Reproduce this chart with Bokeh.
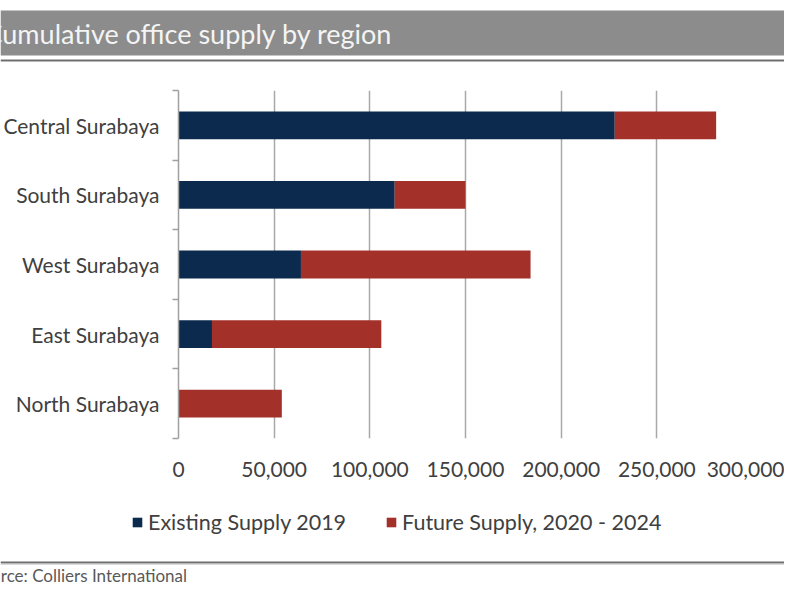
from bokeh.plotting import figure
from bokeh.layouts import column
from bokeh.models import (ColumnDataSource, Range1d, FixedTicker, NumeralTickFormatter,
                          Legend, LegendItem, Label, BoxAnnotation)
from bokeh.embed import file_html
from bokeh.resources import INLINE

# ---- data ----
regions = ["Central Surabaya", "South Surabaya", "West Surabaya", "East Surabaya", "North Surabaya"]
existing_2019 = [228000, 113000, 64000, 17500, 0]
future_2020_2024 = [53000, 37000, 120000, 88500, 54000]
series_names = ["Existing Supply 2019", "Future Supply, 2020 - 2024"]
x_ticks = [0, 50000, 100000, 150000, 200000, 250000, 300000]
title_text = "Cumulative office supply by region"
source_text = "Source: Colliers International"

FONT = "Lato"
NAVY = "#0c2a4d"
RED = "#a3312a"
TXT = "#404040"
AXIS = "#a0a0a0"
BANNER = "#8c8c8c"
W = 784


def blank_fig(h):
    f = figure(width=W, height=h, x_range=Range1d(0, W), y_range=Range1d(0, h),
               output_backend="svg", toolbar_location=None,
               x_axis_location=None, y_axis_location=None,
               min_border=0, min_border_left=0, min_border_right=0,
               min_border_top=0, min_border_bottom=0, frame_align=False)
    f.outline_line_color = None
    f.grid.visible = False
    f.background_fill_color = "white"
    f.border_fill_color = "white"
    return f


def band(f, bottom, top, color):
    f.add_layout(BoxAnnotation(bottom=bottom, top=top, fill_color=color,
                               fill_alpha=1, line_color=None))


# ---- title banner ----
top = blank_fig(62)
band(top, 7, 52, BANNER)
band(top, 1.5, 3, "#6e6e6e")
band(top, 0, 1.5, "#b8b8b8")
top.add_layout(Label(x=-16, y=29, text=title_text, text_font=FONT,
                     text_font_size="27px", text_color="#f4f4f4",
                     text_baseline="middle"))

# ---- main chart ----
n = len(regions)
positions = [n - i for i in range(n)]          # Central on top
boundaries = [k + 0.5 for k in range(n + 1)]

src = ColumnDataSource(dict(pos=positions, region=regions,
                            existing=existing_2019, future=future_2020_2024))

p = figure(width=W, height=428,
           x_range=Range1d(0, x_ticks[-1]), y_range=Range1d(0.5, n + 0.5),
           output_backend="svg", toolbar_location=None,
           min_border_left=177, min_border_right=32,
           min_border_top=28, min_border_bottom=52, frame_align=False)
p.outline_line_color = None
p.background_fill_color = "white"
p.border_fill_color = "white"

renderers = p.hbar_stack(["existing", "future"], y="pos", height=0.4,
                         fill_color=[NAVY, RED], line_color=None, source=src)

xa = p.xaxis[0]
xa.ticker = FixedTicker(ticks=x_ticks)
xa.formatter = NumeralTickFormatter(format="0,0")
xa.axis_line_color = None
xa.major_tick_line_color = None
xa.minor_tick_line_color = None
xa.major_label_text_font = FONT
xa.major_label_text_font_size = "21px"
xa.major_label_text_color = TXT
xa.major_label_standoff = 17

ya = p.yaxis[0]
ya.ticker = FixedTicker(ticks=positions, minor_ticks=boundaries)
ya.major_label_overrides = {pos: name for pos, name in zip(positions, regions)}
ya.major_tick_line_color = None
ya.minor_tick_line_color = AXIS
ya.minor_tick_line_width = 1.5
ya.minor_tick_out = 6
ya.minor_tick_in = 0
ya.axis_line_color = AXIS
ya.axis_line_width = 1.5
ya.major_label_text_font = FONT
ya.major_label_text_font_size = "21px"
ya.major_label_text_color = TXT
ya.major_label_standoff = 13

p.xgrid.ticker = FixedTicker(ticks=x_ticks)
p.xgrid.grid_line_color = "#a8a8a8"
p.xgrid.grid_line_width = 1.5
p.ygrid.visible = False

# ---- legend + source line ----
bot = blank_fig(94)
# same series drawn on an off-view range: they only supply the legend swatches
bot.extra_y_ranges = {"offview": Range1d(n + 10, n + 20)}
keys = bot.hbar_stack(["existing", "future"], y="pos", height=0.4,
                      fill_color=[NAVY, RED], line_color=None, source=src,
                      y_range_name="offview")
legend = Legend(items=[LegendItem(label=series_names[0], renderers=[keys[0]]),
                       LegendItem(label=series_names[1], renderers=[keys[1]])],
                location=(131, 49), orientation="horizontal",
                glyph_width=12, glyph_height=12, label_standoff=5, spacing=39,
                padding=5, margin=0, background_fill_alpha=0, border_line_color=None,
                label_text_font=FONT, label_text_font_size="21.5px", label_text_color=TXT)
bot.add_layout(legend)
band(bot, 21.5, 23, "#6e6e6e")
band(bot, 20, 21.5, "#b8b8b8")
bot.add_layout(Label(x=-28, y=9, text=source_text, text_font=FONT,
                     text_font_size="17px", text_color="#595959",
                     text_baseline="middle"))

layout = column(top, p, bot, spacing=0)
open("out.html", "w").write(file_html(layout, INLINE))
